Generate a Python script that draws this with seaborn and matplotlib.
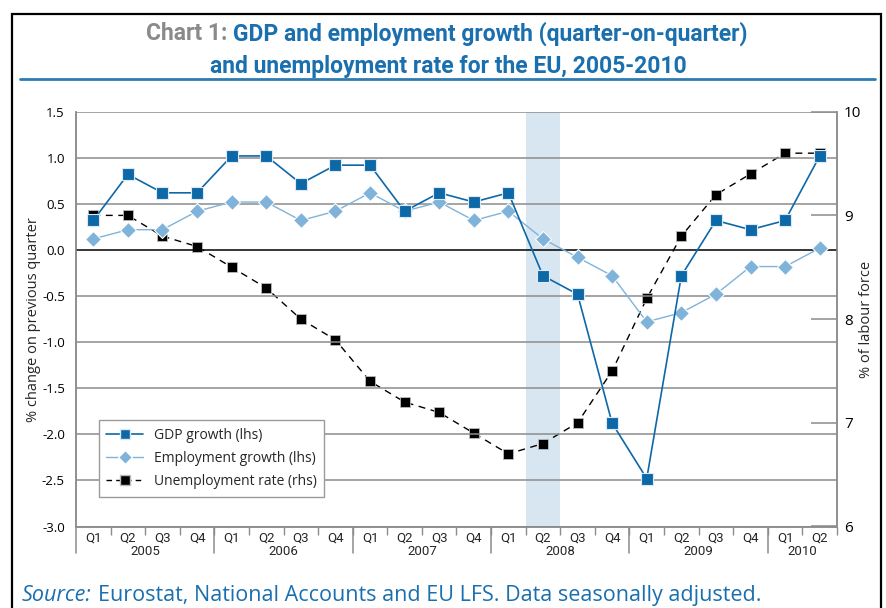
import matplotlib
matplotlib.use("Agg")
import matplotlib.pyplot as plt
import matplotlib.transforms as mtransforms
from matplotlib.lines import Line2D
from matplotlib.patches import Rectangle
import seaborn as sns

# Data (2005Q1 .. 2010Q2)
quarters = ["Q1", "Q2", "Q3", "Q4"] * 5 + ["Q1", "Q2"]
years = ["2005", "2006", "2007", "2008", "2009", "2010"]
gdp_growth = [0.32, 0.82, 0.62, 0.62, 1.02, 1.02, 0.72, 0.92,
              0.92, 0.42, 0.62, 0.52, 0.62, -0.28, -0.48, -1.88,
              -2.48, -0.28, 0.32, 0.22, 0.32, 1.02]
employment_growth = [0.12, 0.22, 0.22, 0.42, 0.52, 0.52, 0.32, 0.42,
                     0.62, 0.42, 0.52, 0.32, 0.42, 0.12, -0.08, -0.28,
                     -0.78, -0.68, -0.48, -0.18, -0.18, 0.02]
unemployment_rate = [9.0, 9.0, 8.8, 8.7, 8.5, 8.3, 8.0, 7.8,
                     7.4, 7.2, 7.1, 6.9, 6.7, 6.8, 7.0, 7.5,
                     8.2, 8.8, 9.2, 9.4, 9.6, 9.6]
left_ticks = [1.5, 1.0, 0.5, 0.0, -0.5, -1.0, -1.5, -2.0, -2.5, -3.0]
right_ticks = [6, 7, 8, 9, 10]

BLUE = "#0d68a8"
LIGHT = "#7fb3d9"
GREY = "#8c8c8c"
TITLE_BLUE = "#1a6fae"

sns.set_theme(style="white")
plt.rcParams["font.family"] = ["Open Sans", "DejaVu Sans"]
NARROW = ["Liberation Sans Narrow", "Roboto", "DejaVu Sans"]

fig = plt.figure(figsize=(8.87, 6.08), dpi=100)
W, H = 887.0, 608.0

ax = fig.add_axes([76 / W, 1 - 526.5 / H, 761 / W, 414.8 / H])
ax2 = ax.twinx()
ax.set_zorder(ax2.get_zorder() + 1)
ax.patch.set_visible(False)

x = list(range(len(quarters)))

# shading for 2008 Q2 (drawn on the lower axes)
ax2.axvspan(12.5, 13.5, color="#d8e6f2", zorder=0, lw=0)

for v in left_ticks:
    ax.axhline(v, color="black" if v == 0 else GREY, lw=1.1, zorder=1)

sns.lineplot(x=x, y=unemployment_rate, ax=ax2, color="black", lw=1.0,
             linestyle=(0, (5, 4)), marker="s", markersize=7.5,
             markeredgecolor="#bbbbbb", markeredgewidth=0.6, zorder=3)
sns.lineplot(x=x, y=employment_growth, ax=ax, color=LIGHT, lw=1.0,
             marker="D", markersize=8, markeredgecolor="white",
             markeredgewidth=0.8, zorder=3)
sns.lineplot(x=x, y=gdp_growth, ax=ax, color=BLUE, lw=1.2,
             marker="s", markersize=8, markeredgecolor="#dde9f4",
             markeredgewidth=0.8, zorder=4)

ax.set_xlim(-0.5, 21.5)
ax.set_ylim(-3.0, 1.5)
ax2.set_ylim(6, 10)

ax.set_yticks(left_ticks)
ax.set_yticklabels([f"{v:.1f}" for v in left_ticks])
ax.tick_params(axis="y", length=0, pad=8, labelsize=9.5, colors="black")
ax2.set_yticks(right_ticks)
ax2.set_yticklabels([str(v) for v in right_ticks])
ax2.tick_params(axis="y", direction="in", length=19, width=1.1, color=GREY,
                pad=5, labelsize=11, labelcolor="black")

ax.set_xticks(x)
ax.set_xticklabels(quarters, fontfamily=NARROW)
ax.set_xticks([i + 0.5 for i in x], minor=True)
ax.tick_params(axis="x", which="major", length=0, pad=4, labelsize=9.5)
ax.tick_params(axis="x", which="minor", length=6, width=1, color=GREY,
               direction="out", bottom=True)

ax.set_ylabel("% change on previous quarter", fontsize=10.5)
ax2.set_ylabel("% of labour force", fontsize=10.5)
ax.yaxis.set_label_coords((41 - 76) / 761, 0.5)
ax2.yaxis.set_label_coords((859 - 76) / 761, 0.5)

for a in (ax, ax2):
    a.grid(False)
    a.spines["top"].set_visible(False)
    for side in ("left", "right", "bottom"):
        a.spines[side].set_color(GREY)
        a.spines[side].set_linewidth(1.1)

# year separators and year labels under the quarter labels
trans = mtransforms.blended_transform_factory(ax.transData, ax.transAxes)
ax_h = 414.8
for b in [-0.5, 3.5, 7.5, 11.5, 15.5, 19.5]:
    ax.plot([b, b], [0, -26 / ax_h], transform=trans, color=GREY, lw=1.1,
            clip_on=False)
for i, yr in enumerate(years):
    ax.text(4 * i + 1.5 if i < 5 else 20.5, -25 / ax_h, yr, transform=trans,
            ha="center", va="center", fontsize=9.5, fontfamily=NARROW)

handles = [
    Line2D([], [], color=BLUE, lw=1.2, marker="s", markersize=7,
           markeredgecolor="#dde9f4"),
    Line2D([], [], color=LIGHT, lw=1.0, marker="D", markersize=7,
           markeredgecolor="white"),
    Line2D([], [], color="black", lw=1.0, linestyle=(0, (4, 3)), marker="s",
           markersize=6.5, markeredgecolor="#bbbbbb"),
]
labels = ["GDP growth (lhs)", "Employment growth (lhs)", "Unemployment rate (rhs)"]
leg = ax.legend(handles, labels, loc="upper left", bbox_to_anchor=(0.030, 0.257),
                borderaxespad=0, fontsize=10, frameon=True, fancybox=False,
                framealpha=1, edgecolor="#9a9a9a", handlelength=2.6,
                labelspacing=0.6, borderpad=0.55)
leg.get_frame().set_linewidth(1.0)
leg.set_zorder(10)

# outer frame and title rule
fig.patches.append(Rectangle((12.5 / W, -0.1), (881 - 12.5) / W, 1.1 - 14 / H,
                             transform=fig.transFigure, fill=False,
                             edgecolor="black", lw=1.6))
fig.add_artist(Line2D([20 / W, 875 / W], [1 - 79 / H, 1 - 79 / H],
                      transform=fig.transFigure, color="#2e7bb4", lw=2))

# two-colour title, centred by measuring the pieces
renderer = fig.canvas.get_renderer()
tfont = dict(fontsize=16.5, fontweight="bold", fontfamily=NARROW)
t1 = fig.text(0, 1 - 34 / H, "Chart 1: ", color="#8a8a8a", va="center", **tfont)
t2 = fig.text(0, 1 - 34 / H, "GDP and employment growth (quarter-on-quarter)",
              color=TITLE_BLUE, va="center", **tfont)
w1 = t1.get_window_extent(renderer).width
w2 = t2.get_window_extent(renderer).width
start = 447 - (w1 + w2) / 2
t1.set_x(start / W)
t2.set_x((start + w1) / W)
fig.text(448 / W, 1 - 66 / H, "and unemployment rate for the EU, 2005-2010",
         color=TITLE_BLUE, ha="center", va="center", **tfont)

# source line at the bottom edge
s1 = fig.text(22 / W, 1 - 601 / H, "Source:", color=TITLE_BLUE,
              fontsize=15.5, fontstyle="italic", va="baseline")
ws = s1.get_window_extent(renderer).width
fig.text((22 + ws + 6) / W, 1 - 601 / H,
         "Eurostat, National Accounts and EU LFS. Data seasonally adjusted.",
         color=TITLE_BLUE, fontsize=15.5, va="baseline")

fig.savefig("out.png", dpi=100)
